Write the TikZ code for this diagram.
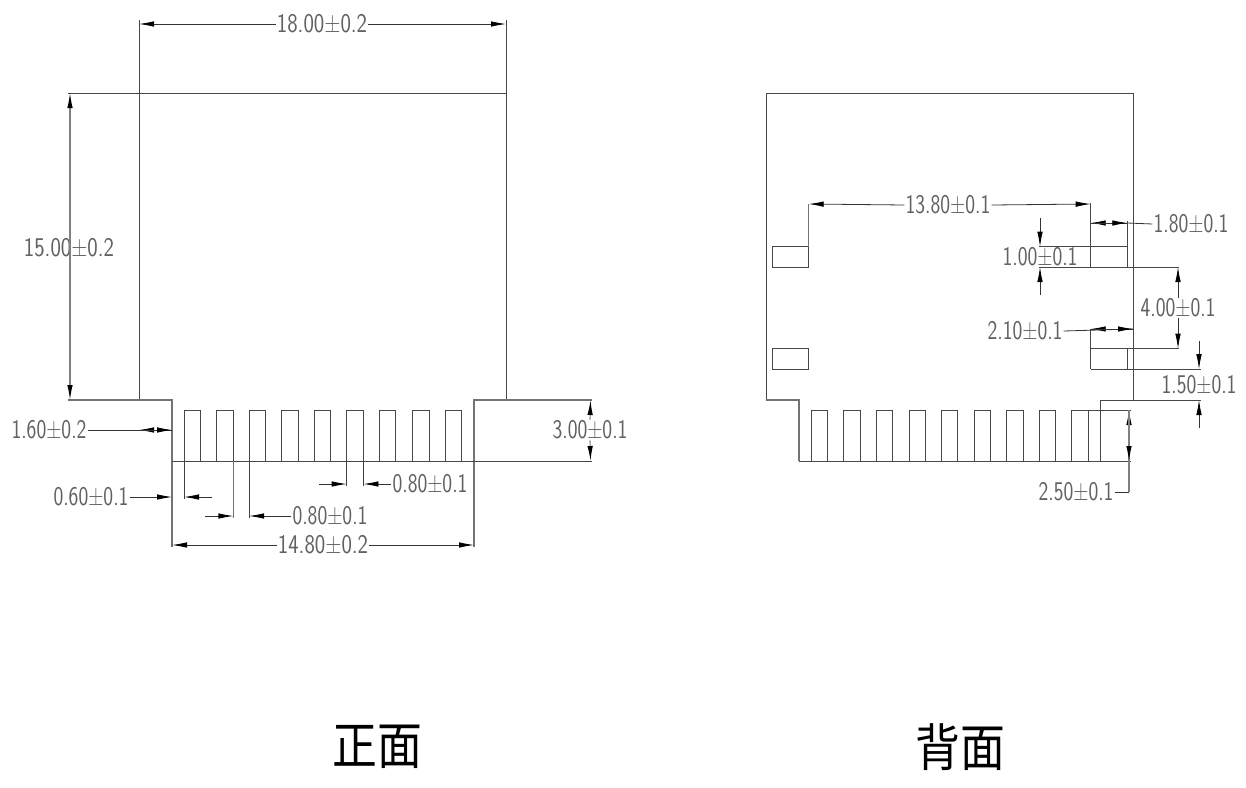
\documentclass[tikz,border=0pt]{standalone}
\usepackage{fontspec}
\usetikzlibrary{arrows.meta}
\newfontfamily\dimfont[FakeStretch=0.82]{Latin Modern Sans}
\newfontfamily\dimnarrow[FakeStretch=0.77]{Latin Modern Sans}
\newfontfamily\cjkfont[FakeStretch=0.88]{Noto Sans CJK SC}
\tikzset{
  part/.style={draw=black!72,line width=0.9pt},
  partg/.style={draw=black!55,line width=1.1pt},
  ext/.style={draw=black!75,line width=0.8pt},
  dim/.style={draw=black!80,line width=0.8pt,-{Latex[length=15pt,width=5.5pt,black]}},
  dimg/.style={draw=black!50,line width=1.1pt,-{Latex[length=15pt,width=5.5pt,black]}},
  plainl/.style={draw=black!80,line width=0.8pt},
  dimlabel/.style={inner sep=1pt,text=black!62,font=\dimfont\fontsize{27}{27}\selectfont},
  dimlabeln/.style={inner sep=1pt,text=black!62,font=\dimnarrow\fontsize{27}{27}\selectfont},
  title/.style={inner sep=0pt,text=black,font=\cjkfont\fontsize{51}{51}\selectfont}
}
\begin{document}
\begin{tikzpicture}[x=1pt,y=-1pt]
\useasboundingbox[fill=white] (0,0) rectangle (1246,787);
% ---------- front
\draw[part] (139,93) -- (506,93);
\draw[part] (139,20) -- (139,400);
\draw[part] (506,20) -- (506,400);
\draw[partg] (68,400) -- (172,400) -- (172,547);
\draw[part] (68,93) -- (139,93);
\draw[partg] (474,547) -- (474,400) -- (592,400);
\draw[part] (172,461) -- (592,461);
\foreach \x in {184,216.7,249,281.7,314,346.7,379,412.5,445}{
  \draw[part] (\x,461) -- (\x,410) -- (\x+16.7,410) -- (\x+16.7,461);
}
\draw[ext] (184,461) -- (184,499);
\draw[partg] (233.4,461) -- (233.4,518);
\draw[ext] (249,461) -- (249,518);
\draw[ext] (346.7,461) -- (346.7,486);
\draw[ext] (363.4,461) -- (363.4,486);
% front dimension labels
\node[dimlabel] (t18) at (322,24) {18.00±0.2};
\node[dimlabel] (t15) at (69,248) {15.00±0.2};
\node[dimlabeln] (t16) at (49,430) {1.60±0.2};
\node[dimlabeln] (t06) at (91,497) {0.60±0.1};
\node[dimlabeln] (t08a) at (330,516) {0.80±0.1};
\node[dimlabeln] (t08b) at (430,484) {0.80±0.1};
\node[dimlabel] (t148) at (323,545) {14.80±0.2};
\node[dimlabeln] (t30) at (590,430) {3.00±0.1};
% front dimension lines
\draw[dim] (t18.west) -- (139,24);
\draw[dim] (t18.east) -- (506,24);
\draw[dimg] (70,248) -- (70,93);
\draw[dimg] (70,248) -- (70,400);
\draw[plainl] (t16.east) -- (172,430);
\draw[dim] (172,430) -- (139,430);
\draw[dim] (139,430) -- (172,430);
\draw[dim] (t06.east) -- (172,497);
\coordinate (a06) at (212,497);
\draw[dim] (a06) -- (184,497);
\coordinate (a08l) at (205,516);
\draw[dim] (a08l) -- (233.4,516);
\draw[dim] (t08a.west) -- (249,516);
\coordinate (b08l) at (319,484);
\draw[dim] (b08l) -- (346.7,484);
\draw[dim] (t08b.west) -- (363.4,484);
\draw[dim] (t148.west) -- (172,545);
\draw[dim] (t148.east) -- (474,545);
\draw[dimg] (t30.north) -- (590.5,400);
\draw[dimg] (t30.south) -- (590.5,461);
% ---------- back
\draw[part] (766,400) -- (766,93) -- (1133,93) -- (1133,400);
\draw[partg] (766,400) -- (799,400) -- (799,461);
\draw[part] (799,461) -- (1131,461);
\draw[part] (1100.3,461) -- (1100.3,400) -- (1201,400);
\foreach \x in {811.3,843.7,876.3,909,941.3,974,1006.7,1039.3,1071.7}{
  \draw[part] (\x,461) -- (\x,410) -- (\x+16.6,410) -- (\x+16.6,461);
}
\draw[part] (1088.3,410) -- (1131,410);
\draw[part] (772,246.7) rectangle (808.7,267);
\draw[part] (772,348.5) rectangle (808.7,369.2);
\draw[partg] (808.7,204) -- (808.7,246.7);
\draw[part] (1039,246.7) -- (1127.3,246.7);
\draw[part] (1039,267) -- (1179,267);
\draw[part] (1090.7,203) -- (1090.7,267);
\draw[part] (1127.3,221) -- (1127.3,267);
\draw[part] (1090.7,329) -- (1090.7,369.2);
\draw[part] (1090.7,348.7) -- (1179,348.7);
\draw[part] (1090.7,369.2) -- (1201,369.2);
\draw[part] (1127.3,348.7) -- (1127.3,369.2);
% back dimension labels
\node[dimlabeln] (t138) at (948,205) {13.80±0.1};
\node[dimlabeln] (t18b) at (1191,224) {1.80±0.1};
\node[dimlabeln] (t10) at (1040,257) {1.00±0.1};
\node[dimlabeln] (t40) at (1178,308) {4.00±0.1};
\node[dimlabeln] (t21) at (1025,331) {2.10±0.1};
\node[dimlabeln] (t15b) at (1199,385) {1.50±0.1};
\node[dimlabeln] (t25) at (1076,492) {2.50±0.1};
% back dimension lines
\draw[dim] (t138.west) -- (808.7,204);
\draw[dim] (t138.east) -- (1090.7,204);
\draw[plainl] (t18b.west) -- (1127.3,223);
\draw[dim] (1127.3,223) -- (1090.7,223);
\draw[dim] (1090.7,223) -- (1127.3,223);
\coordinate (u10) at (1040,218);
\coordinate (d10) at (1040,295);
\draw[dim] (u10) -- (1040,246.7);
\draw[dim] (d10) -- (1040,267);
\draw[dim] (t40.north) -- (1178,267);
\draw[dim] (t40.south) -- (1178,348.7);
\draw[plainl] (t21.east) -- (1133,329);
\draw[dim] (1133,329) -- (1090.7,329);
\draw[dim] (1090.7,329) -- (1133,329);
\coordinate (u15) at (1199,341);
\coordinate (d15) at (1199,428);
\draw[dim] (u15) -- (1199,369.2);
\draw[dim] (d15) -- (1199,400);
\coordinate (c25) at (1129,492);
\draw[dimg] (c25) -- (1129,410);
\draw[dimg] (1129,410) -- (1129,461);
\draw[plainl] (t25.east) -- (c25);
% ---------- titles
\node[title] (front) at (377,747) {正面};
\node[title] (back) at (960,747) {背面};
\end{tikzpicture}
\end{document}
